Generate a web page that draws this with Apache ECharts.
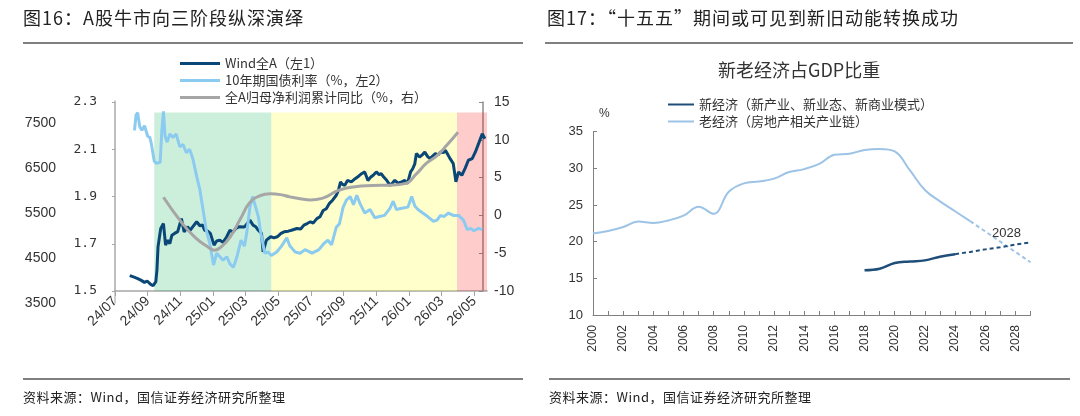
<!DOCTYPE html>
<html>
<head>
<meta charset="utf-8">
<script src="https://cdn.jsdelivr.net/npm/echarts@6/dist/echarts.min.js"></script>
<style>
  body { margin: 0; width: 1080px; height: 416px; background: #fff; position: relative; overflow: hidden;
         font-family: 'Noto Sans CJK SC', sans-serif; }
  .chart { position: absolute; top: 0; width: 540px; height: 416px; }
  .title { position: absolute; top: 6px; font-size: 18px; line-height: 22px; letter-spacing: 1px; color: #222; white-space: nowrap; }
  .rule { position: absolute; height: 2px; background: #808080; }
  .src { position: absolute; top: 388px; font-size: 13px; line-height: 18px; letter-spacing: 0.5px; color: #222; white-space: nowrap; }
</style>
</head>
<body>
<div id="left" class="chart" style="left:0"></div>
<div id="right" class="chart" style="left:540px"></div>

<div class="title" style="left:23px">图16：A股牛市向三阶段纵深演绎</div>
<div class="title" style="left:547px">图17：“十五五”期间或可见到新旧动能转换成功</div>
<div class="rule" style="left:23px;width:500px;top:42px"></div>
<div class="rule" style="left:545px;width:528px;top:42px"></div>
<div class="rule" style="left:23px;width:500px;top:378px"></div>
<div class="rule" style="left:549px;width:521px;top:378px"></div>
<div class="src" style="left:23px">资料来源：Wind，国信证券经济研究所整理</div>
<div class="src" style="left:549px">资料来源：Wind，国信证券经济研究所整理</div>

<script>
// ---------- 图16 数据 ----------
var windName = 'Wind全A（左1）';
var bondName = '10年期国债利率（%，左2）';
var profitName = '全A归母净利润累计同比（%，右）';

var windA = [
  ['2024-07-29',4110],['2024-08-05',4080],['2024-08-12',4050],['2024-08-19',4010],['2024-08-26',3960],
  ['2024-08-31',3990],['2024-09-06',3920],['2024-09-11',3885],['2024-09-16',3975],['2024-09-18',4230],
  ['2024-09-20',4750],['2024-09-25',5160],['2024-09-30',5270],['2024-10-04',4790],['2024-10-08',4900],
  ['2024-10-12',4820],['2024-10-16',5010],['2024-10-21',5050],['2024-10-27',5090],['2024-11-03',5380],
  ['2024-11-08',5080],['2024-11-14',5200],['2024-11-19',5120],['2024-11-24',5200],['2024-12-01',5310],
  ['2024-12-07',5220],['2024-12-12',5240],['2024-12-16',5120],['2024-12-22',5100],['2024-12-27',5050],
  ['2025-01-03',4790],['2025-01-08',4880],['2025-01-14',4900],['2025-01-20',4850],['2025-01-27',4975],
  ['2025-02-02',5120],['2025-02-07',5080],['2025-02-12',5160],['2025-02-18',5200],['2025-02-21',5235],
  ['2025-02-27',5195],['2025-03-04',5270],['2025-03-09',5345],['2025-03-15',5235],['2025-03-20',5200],
  ['2025-03-25',5120],['2025-03-31',5050],['2025-04-03',4640],['2025-04-09',4900],['2025-04-17',4975],
  ['2025-04-23',4950],['2025-04-29',4975],['2025-05-06',5050],['2025-05-12',5085],['2025-05-20',5100],
  ['2025-05-26',5120],['2025-06-05',5160],['2025-06-12',5150],['2025-06-18',5235],['2025-06-24',5270],
  ['2025-06-30',5310],['2025-07-05',5280],['2025-07-12',5380],['2025-07-18',5420],['2025-07-24',5560],
  ['2025-07-30',5600],['2025-08-05',5720],['2025-08-11',5790],['2025-08-18',5900],['2025-08-22',6010],
  ['2025-08-26',6200],['2025-08-29',6150],['2025-09-03',6120],['2025-09-08',6230],['2025-09-15',6200],
  ['2025-09-22',6270],['2025-09-29',6330],['2025-10-04',6380],['2025-10-10',6420],['2025-10-16',6230],
  ['2025-10-21',6300],['2025-10-26',6345],['2025-11-01',6420],['2025-11-06',6360],['2025-11-10',6380],
  ['2025-11-15',6300],['2025-11-20',6235],['2025-11-26',6120],['2025-12-01',6180],['2025-12-05',6235],
  ['2025-12-11',6170],['2025-12-18',6200],['2025-12-24',6230],['2025-12-29',6160],['2026-01-04',6420],
  ['2026-01-08',6490],['2026-01-12',6600],['2026-01-15',6830],['2026-01-21',6750],['2026-01-26',6800],
  ['2026-01-31',6860],['2026-02-05',6760],['2026-02-09',6715],['2026-02-14',6780],['2026-02-18',6825],
  ['2026-02-23',6800],['2026-02-27',6865],['2026-03-04',6850],['2026-03-08',6900],['2026-03-13',6800],
  ['2026-03-17',6715],['2026-03-23',6605],['2026-03-28',6200],['2026-04-02',6420],['2026-04-08',6345],
  ['2026-04-14',6500],['2026-04-20',6680],['2026-04-27',6715],['2026-05-03',6865],['2026-05-09',7050],
  ['2026-05-16',7270],['2026-05-21',7160]
];

var bond10y = [
  ['2024-08-07',2.18],['2024-08-10',2.245],['2024-08-13',2.255],['2024-08-17',2.195],['2024-08-21',2.18],
  ['2024-08-26',2.20],['2024-09-01',2.155],['2024-09-05',2.15],['2024-09-08',2.12],['2024-09-13',2.05],
  ['2024-09-17',2.04],['2024-09-24',2.045],['2024-09-27',2.18],['2024-09-30',2.26],['2024-10-03',2.155],
  ['2024-10-07',2.13],['2024-10-12',2.165],['2024-10-18',2.15],['2024-10-24',2.165],['2024-10-31',2.11],
  ['2024-11-06',2.12],['2024-11-12',2.085],['2024-11-18',2.10],['2024-11-24',2.06],['2024-12-01',1.985],
  ['2024-12-07',1.93],['2024-12-13',1.845],['2024-12-19',1.76],['2024-12-26',1.70],['2025-01-02',1.61],
  ['2025-01-08',1.66],['2025-01-14',1.645],['2025-01-20',1.63],['2025-01-27',1.645],['2025-02-02',1.615],
  ['2025-02-08',1.60],['2025-02-14',1.645],['2025-02-21',1.715],['2025-02-27',1.69],['2025-03-03',1.745],
  ['2025-03-09',1.855],['2025-03-14',1.90],['2025-03-18',1.87],['2025-03-25',1.815],['2025-03-28',1.77],
  ['2025-03-31',1.73],['2025-04-06',1.66],['2025-04-12',1.665],['2025-04-18',1.65],['2025-04-28',1.665],
  ['2025-05-07',1.69],['2025-05-17',1.725],['2025-05-23',1.69],['2025-06-02',1.665],['2025-06-11',1.66],
  ['2025-06-20',1.675],['2025-07-03',1.66],['2025-07-16',1.675],['2025-07-25',1.70],['2025-08-02',1.715],
  ['2025-08-09',1.695],['2025-08-18',1.77],['2025-08-24',1.785],['2025-08-31',1.855],['2025-09-06',1.885],
  ['2025-09-13',1.90],['2025-09-19',1.865],['2025-09-25',1.905],['2025-10-01',1.87],['2025-10-10',1.83],
  ['2025-10-20',1.845],['2025-10-29',1.81],['2025-11-07',1.815],['2025-11-16',1.82],['2025-11-26',1.85],
  ['2025-12-02',1.88],['2025-12-08',1.845],['2025-12-18',1.85],['2025-12-30',1.855],['2026-01-06',1.90],
  ['2026-01-09',1.905],['2026-01-12',1.86],['2026-01-18',1.845],['2026-01-27',1.83],['2026-02-05',1.815],
  ['2026-02-15',1.795],['2026-02-21',1.80],['2026-02-27',1.82],['2026-03-05',1.815],['2026-03-14',1.83],
  ['2026-03-23',1.82],['2026-04-02',1.82],['2026-04-11',1.80],['2026-04-18',1.76],['2026-04-24',1.765],
  ['2026-04-30',1.755],['2026-05-09',1.765],['2026-05-16',1.76]
];

var profitYoY = [
  ['2024-09-30',2.4],['2024-11-03',-0.9],['2024-11-28',-2.9],['2024-12-23',-4.2],['2025-01-04',-4.6],
  ['2025-01-14',-4.3],['2025-02-02',-2.9],['2025-02-21',-0.3],['2025-03-09',1.7],['2025-03-28',2.6],
  ['2025-04-16',2.85],['2025-05-05',2.75],['2025-05-23',2.45],['2025-06-11',2.2],['2025-06-30',2.05],
  ['2025-07-22',2.25],['2025-08-22',3.3],['2025-09-22',3.8],['2025-10-24',3.95],['2025-11-24',4.0],
  ['2025-12-24',4.2],['2026-01-15',5.5],['2026-02-03',6.9],['2026-02-21',7.9],['2026-03-11',9.3],
  ['2026-04-01',11.0]
];

// 三个阶段的起止日期和底色
var phases = [
  ['2024-09-13','2025-04-18','rgba(0,176,80,0.2)'],
  ['2025-04-18','2026-03-30','rgba(255,255,0,0.2)'],
  ['2026-03-30','2026-05-25','rgba(255,0,0,0.2)']
];
var phaseTop = 13.6;
var axisStart = '2024-07-01';
var axisEnd = '2026-05-25';

// ---------- 图17 数据 ----------
var years = ['2000','2001','2002','2003','2004','2005','2006','2007','2008','2009','2010','2011','2012','2013','2014',
  '2015','2016','2017','2018','2019','2020','2021','2022','2023','2024','2025','2026','2027','2028','2029'];
var newName = '新经济（新产业、新业态、新商业模式）';
var oldName = '老经济（房地产相关产业链）';
var oldYears = ['2000','2001','2002','2003','2004','2005','2006','2007','2008','2009','2010','2011','2012','2013',
  '2014','2015','2016','2017','2018','2019','2020','2021','2022','2023','2024','2025'];
var oldVals = [21.1,21.45,22.0,22.75,22.55,22.9,23.55,24.75,23.8,26.8,27.95,28.2,28.6,29.5,
  29.9,30.6,31.85,32.0,32.5,32.65,32.3,29.75,27.05,25.5,24.15,22.8];
var oldFcYears = ['2025','2026','2027','2028','2029'];
var oldFcVals = [22.8,21.4,20.0,18.6,17.2];
var newYears = ['2018','2019','2020','2021','2022','2023','2024'];
var newVals = [16.1,16.3,17.1,17.3,17.45,17.95,18.3];
var newFcYears = ['2024','2025','2026','2027','2028','2029'];
var newFcVals = [18.3,18.6,18.95,19.25,19.6,19.9];
var markYear = '2028';

// 日期 -> 自 2024/07 起的月份数
function toMonth(d) {
  var p = d.split('-');
  var y = +p[0], m = +p[1], day = +p[2];
  var dim = new Date(y, m, 0).getDate();
  return (y - 2024) * 12 + (m - 7) + (day - 1) / dim;
}
function pts(arr) {
  return arr.map(function (r) { return [toMonth(r[0]), r[1]]; });
}
function pairs(ys, vs) {
  return ys.map(function (y, i) { return [y, vs[i]]; });
}

var cjk = "'Noto Sans CJK SC', sans-serif";
var num = "'Liberation Sans', Arial, sans-serif";

(function () {
  var myChart = echarts.init(document.getElementById('left'));
  var xMax = toMonth(axisEnd);
  var option = {
    animation: false,
    legend: {
      orient: 'vertical',
      left: 175,
      top: 52,
      itemWidth: 40,
      itemHeight: 14,
      itemGap: 4,
      icon: 'path://M0,0H40V3H0Z',
      data: [windName, bondName, profitName],
      textStyle: { fontSize: 13, color: '#333', fontFamily: cjk }
    },
    grid: [
      { left: 115, right: 53, top: 102, bottom: 125 },
      { left: 115, right: 53, top: 101, bottom: 113 }
    ],
    xAxis: [
      {
        gridIndex: 0, type: 'value', min: toMonth(axisStart), max: xMax, interval: 2,
        splitLine: { show: false },
        axisLine: { onZero: false, lineStyle: { color: '#a6a6a6', width: 1.5 } },
        axisTick: { length: 5, lineStyle: { color: '#a6a6a6' } },
        axisLabel: {
          rotate: 45, fontSize: 14, color: '#333', margin: 8, fontFamily: num, showMaxLabel: false,
          formatter: function (v) {
            if (Math.abs(v - Math.round(v)) > 1e-6) return '';
            var t = 2024 * 12 + 6 + Math.round(v);
            var y = Math.floor(t / 12), m = t % 12 + 1;
            return String(y).slice(2) + '/' + (m < 10 ? '0' : '') + m;
          }
        }
      },
      { gridIndex: 1, type: 'value', min: toMonth(axisStart), max: xMax, show: false }
    ],
    yAxis: [
      {
        gridIndex: 0, type: 'value', position: 'left', min: 1.5, max: 2.3, interval: 0.2,
        splitLine: { show: false },
        axisLine: { show: true, lineStyle: { color: '#a6a6a6', width: 1.5 } },
        axisTick: { show: true, length: 3, lineStyle: { color: '#a6a6a6' } },
        axisLabel: { fontSize: 13, color: '#333', margin: 18, fontFamily: "'DejaVu Sans Mono', monospace",
          formatter: function (v) { return v.toFixed(1); } }
      },
      {
        gridIndex: 0, type: 'value', position: 'right', offset: -4, min: -10, max: 15, interval: 5,
        splitLine: { show: false },
        axisLine: { show: true, lineStyle: { color: '#8c8c8c', width: 1.5 } },
        axisTick: { show: true, inside: true, length: 4, lineStyle: { color: '#8c8c8c' } },
        axisLabel: { fontSize: 14, color: '#333', margin: 11, fontFamily: num }
      },
      {
        gridIndex: 1, type: 'value', position: 'left', offset: 48, min: 3500, max: 8000, interval: 1000,
        splitLine: { show: false },
        axisLine: { show: true, lineStyle: { color: '#bfbfbf', width: 1.5 } },
        axisTick: { show: false },
        axisLabel: { fontSize: 14, color: '#333', margin: 11, fontFamily: num, showMaxLabel: false,
          formatter: function (v) { return String(v); } }
      }
    ],
    series: [
      {
        name: windName, type: 'line', xAxisIndex: 1, yAxisIndex: 2, symbol: 'none',
        lineStyle: { color: '#0a4777', width: 3 }, itemStyle: { color: '#0a4777' },
        data: pts(windA)
      },
      {
        name: bondName, type: 'line', xAxisIndex: 0, yAxisIndex: 0, symbol: 'none',
        lineStyle: { color: '#8ccbf0', width: 3 }, itemStyle: { color: '#8ccbf0' },
        data: pts(bond10y)
      },
      {
        name: profitName, type: 'line', xAxisIndex: 0, yAxisIndex: 1, symbol: 'none', smooth: 0.5,
        lineStyle: { color: '#a6a6a6', width: 3 }, itemStyle: { color: '#a6a6a6' },
        data: pts(profitYoY)
      },
      {
        // 阶段底色，盖在线上方
        name: 'phase', type: 'line', xAxisIndex: 0, yAxisIndex: 1, z: 10, silent: true, data: [],
        markArea: {
          silent: true,
          data: phases.map(function (p) {
            return [
              { xAxis: toMonth(p[0]), yAxis: phaseTop, itemStyle: { color: p[2] } },
              { xAxis: toMonth(p[1]), yAxis: -10 }
            ];
          })
        }
      }
    ]
  };
  option && myChart.setOption(option);
})();

(function () {
  var myChart = echarts.init(document.getElementById('right'));
  var markVal = newFcVals[newFcYears.indexOf(markYear)];
  var option = {
    animation: false,
    title: {
      text: '新老经济占GDP比重', left: 173, top: 56,
      textStyle: { fontSize: 18, fontWeight: 'normal', color: '#333', fontFamily: cjk }
    },
    legend: {
      orient: 'vertical', left: 123, top: 93, itemWidth: 26, itemHeight: 14, itemGap: 4,
      icon: 'path://M0,0H26V2H0Z',
      data: [newName, oldName],
      textStyle: { fontSize: 13, color: '#333', fontFamily: cjk }
    },
    grid: { left: 53, right: 49.5, top: 131.7, bottom: 101 },
    xAxis: {
      type: 'category', data: years, boundaryGap: false,
      axisLine: { lineStyle: { color: '#808080' } },
      axisTick: { inside: true, length: 4, interval: 0, lineStyle: { color: '#808080' } },
      axisLabel: { interval: 1, rotate: 90, fontSize: 12, color: '#333', margin: 10, fontFamily: num }
    },
    yAxis: {
      type: 'value', min: 10, max: 35, interval: 5,
      name: '%', nameLocation: 'end', nameGap: 12,
      nameTextStyle: { fontSize: 12, color: '#333', align: 'left', padding: [0, 0, 0, 6], fontFamily: num },
      splitLine: { show: false },
      axisLine: { show: true, lineStyle: { color: '#808080' } },
      axisTick: { show: true, inside: true, length: 4, lineStyle: { color: '#808080' } },
      axisLabel: { fontSize: 13, color: '#333', margin: 10, fontFamily: num }
    },
    series: [
      {
        name: oldName, type: 'line', symbol: 'none', smooth: 0.4,
        lineStyle: { color: '#9dc3e6', width: 2 }, itemStyle: { color: '#9dc3e6' },
        data: pairs(oldYears, oldVals)
      },
      {
        name: '老经济预测', type: 'line', symbol: 'none',
        lineStyle: { color: '#9dc3e6', width: 2, type: [4, 3] }, itemStyle: { color: '#9dc3e6' },
        data: pairs(oldFcYears, oldFcVals)
      },
      {
        name: newName, type: 'line', symbol: 'none', smooth: 0.4,
        lineStyle: { color: '#1f4e79', width: 2.5 }, itemStyle: { color: '#1f4e79' },
        data: pairs(newYears, newVals)
      },
      {
        name: '新经济预测', type: 'line', symbol: 'none',
        lineStyle: { color: '#1f4e79', width: 2, type: [4, 3] }, itemStyle: { color: '#1f4e79' },
        data: pairs(newFcYears, newFcVals),
        markPoint: {
          silent: true,
          symbol: 'circle',
          symbolSize: 0,
          label: { show: true, formatter: markYear, position: 'top', distance: 5, offset: [-9, 0],
            fontSize: 13, color: '#333', fontFamily: num },
          data: [{ coord: [markYear, markVal] }]
        }
      }
    ]
  };
  option && myChart.setOption(option);
})();
</script>
</body>
</html>
